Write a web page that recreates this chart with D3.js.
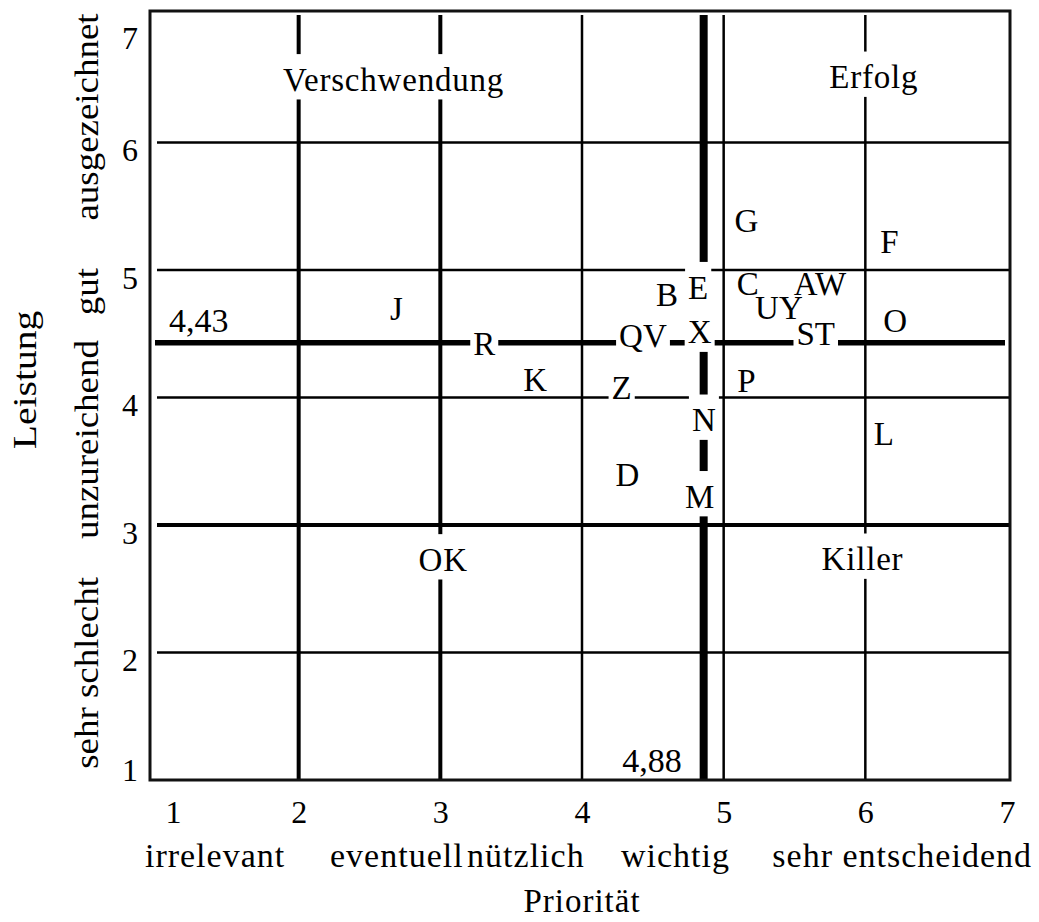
<!DOCTYPE html>
<html><head><meta charset="utf-8">
<script src="https://cdn.jsdelivr.net/npm/d3@7"></script>
<style>
body{margin:0;background:#fff}
svg text{font-family:"Liberation Serif","Times New Roman",serif;fill:#000}
</style>
</head><body>
<svg id="chart" width="1039" height="922"></svg>
<script>
// ---- data ----
const xTicks = [1, 2, 3, 4, 5, 6, 7];
const yTicks = [1, 2, 3, 4, 5, 6, 7];
const xCategoryLabels = ["irrelevant", "eventuell nützlich", "wichtig", "sehr entscheidend"];
const xCategoryPos = [1.41, 3.12, 4.66, 6.26];
const yCategoryLabels = ["sehr schlecht", "unzureichend", "gut", "ausgezeichnet"];
const yCategoryPos = [1.84, 3.67, 4.83, 6.2];
const xTitle = "Priorität";
const yTitle = "Leistung";
const itemNames       = ["G", "F", "E", "B", "C", "AW", "UY", "ST", "O", "P", "L", "N", "M", "X", "QV", "Z", "D", "K", "R", "J"];
const itemPriority    = [5.16, 6.17, 4.82, 4.60, 5.17, 5.68, 5.39, 5.65, 6.21, 5.16, 6.13, 4.86, 4.83, 4.83, 4.43, 4.28, 4.32, 3.67, 3.31, 2.69];
const itemPerformance = [5.38, 5.22, 4.86, 4.80, 4.89, 4.89, 4.70, 4.50, 4.60, 4.13, 3.71, 3.82, 3.22, 4.51, 4.48, 4.07, 3.39, 4.14, 4.42, 4.69];
const meanPriority = 4.88;
const meanPerformance = 4.43;
const meanPriorityLabel = "4,88";
const meanPerformanceLabel = "4,43";
const quadrantNames = ["Verschwendung", "Erfolg", "OK", "Killer"];
const quadrantX = [2.67, 6.06, 3.02, 5.98];
const quadrantY = [6.49, 6.51, 2.725, 2.73];

// ---- styles ----
const maskedItems = new Set(["E", "X", "N", "M", "Z", "R", "QV", "ST"]);
const gridWidthX = {2: 4, 3: 4, 4: 2.5, 5: 2.5, 6: 2.5};
const gridWidthY = {2: 2.5, 3: 4, 4: 2.5, 5: 2.5, 6: 2.5};

const svg = d3.select("#chart");
const x = d3.scaleLinear().domain([1, 7]).range([157, 1007]);
const y = d3.scaleLinear().domain([1, 7]).range([780, 15]);

const lines = svg.append("g");
// vertical grid
lines.selectAll(".vg").data(xTicks.filter(d => d > 1 && d < 7)).join("line")
  .attr("x1", d => x(d)).attr("x2", d => x(d))
  .attr("y1", y(7)).attr("y2", y(1))
  .attr("stroke", "#000").attr("stroke-width", d => gridWidthX[d]);
// horizontal grid
lines.selectAll(".hg").data(yTicks.filter(d => d > 1 && d < 7)).join("line")
  .attr("x1", x(1)).attr("x2", x(7) + 3)
  .attr("y1", d => y(d)).attr("y2", d => y(d))
  .attr("stroke", "#000").attr("stroke-width", d => gridWidthY[d]);
// mean lines
lines.append("line").attr("x1", x(meanPriority) - 3).attr("x2", x(meanPriority) - 3)
  .attr("y1", y(7)).attr("y2", y(1)).attr("stroke", "#000").attr("stroke-width", 8);
lines.append("line").attr("x1", x(1) - 2).attr("x2", x(7) - 2)
  .attr("y1", y(meanPerformance)).attr("y2", y(meanPerformance)).attr("stroke", "#000").attr("stroke-width", 5.5);
// frame
svg.append("rect").attr("x", x(1) - 7).attr("y", y(7) - 4)
  .attr("width", x(7) + 3 - (x(1) - 7)).attr("height", y(1) - (y(7) - 4))
  .attr("fill", "none").attr("stroke", "#111").attr("stroke-width", 3);

// labels with optional white masks
const maskLayer = svg.append("g");
const textLayer = svg.append("g");
function addLabel(txt, px, py, fs, masked, spacing) {
  const t = textLayer.append("text").attr("x", px).attr("y", py + 0.331 * fs)
    .attr("text-anchor", "middle").attr("font-size", fs)
    .attr("letter-spacing", spacing || 0).text(txt);
  if (masked) {
    const bb = t.node().getBBox();
    const capTop = py - 0.331 * fs, base = py + 0.331 * fs;
    maskLayer.append("rect").attr("x", bb.x - 3).attr("width", bb.width + 6)
      .attr("y", capTop - 15).attr("height", base - capTop + 23.5).attr("fill", "#fff");
  }
}
itemNames.forEach((n, i) => addLabel(n, x(itemPriority[i]), y(itemPerformance[i]), 33, maskedItems.has(n), 0));
quadrantNames.forEach((n, i) => addLabel(n, x(quadrantX[i]), y(quadrantY[i]), 33, true, 0.8));

// mean value labels
svg.append("text").attr("x", x(1) + 12).attr("y", y(meanPerformance) - 10.6)
  .attr("font-size", 34).text(meanPerformanceLabel);
svg.append("text").attr("x", x(meanPriority) - 25).attr("y", y(1) - 8.3)
  .attr("text-anchor", "end").attr("font-size", 34).text(meanPriorityLabel);

// x axis
const xAxis = svg.append("g").attr("transform", `translate(0,${y(1)})`)
  .call(d3.axisBottom(x).tickValues(xTicks).tickSize(0).tickPadding(20.3).tickFormat(d3.format("d")));
xAxis.select(".domain").remove();
xAxis.selectAll("text").attr("font-size", 32).attr("font-family", null)
  .attr("x", d => Math.max(x(d), 173) - x(d));

// y axis
const yAxis = svg.append("g").attr("transform", `translate(146,0)`)
  .call(d3.axisLeft(y).tickValues(yTicks).tickSize(0).tickPadding(8).tickFormat(d3.format("d")));
yAxis.select(".domain").remove();
yAxis.selectAll("text").attr("font-size", 32).attr("font-family", null)
  .attr("y", d => Math.min(Math.max(y(d) + 8, 38), 770) - y(d));

// category descriptors
svg.selectAll(".xcat").data(xCategoryLabels).join("text")
  .attr("x", (d, i) => x(xCategoryPos[i])).attr("y", 866.7)
  .attr("text-anchor", "middle").attr("font-size", 34).attr("letter-spacing", 1)
  .attr("word-spacing", (d) => d === "eventuell nützlich" ? -6 : 0)
  .text(d => d);
svg.selectAll(".ycat").data(yCategoryLabels).join("text")
  .attr("transform", (d, i) => `translate(98,${y(yCategoryPos[i])}) rotate(-90) scale(1.12,1)`)
  .attr("text-anchor", "middle").attr("font-size", 33)
  .text(d => d);

// titles
svg.append("text").attr("x", 582).attr("y", 911.7).attr("text-anchor", "middle")
  .attr("font-size", 33).attr("letter-spacing", 1).text(xTitle);
svg.append("text").attr("transform", `translate(36,380) rotate(-90) scale(1.2,1)`)
  .attr("text-anchor", "middle").attr("font-size", 33).text(yTitle);
</script>
</body></html>
